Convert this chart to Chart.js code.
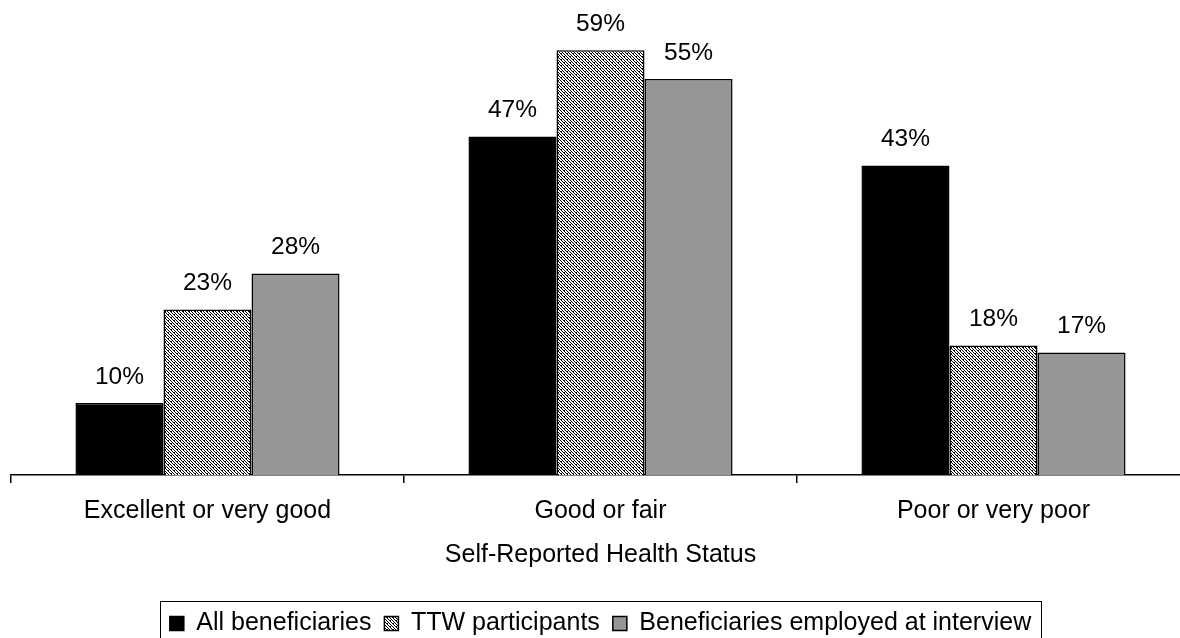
<!DOCTYPE html>
<html><head><meta charset="utf-8">
<script src="https://cdn.jsdelivr.net/npm/chart.js@4.4.1/dist/chart.umd.min.js"></script>
<style>
html,body{margin:0;padding:0;background:#fff;overflow:hidden;width:1180px;height:638px}
#wrap{position:absolute;left:0;top:0;width:1200px;height:660px}
</style></head><body>
<div id="wrap"><canvas id="c" width="1200" height="660"></canvas></div>
<script>
const categories = ['Excellent or very good', 'Good or fair', 'Poor or very poor'];
const seriesNames = ['All beneficiaries', 'TTW participants', 'Beneficiaries employed at interview'];
const allBeneficiaries = [10, 47, 43];
const ttwParticipants = [23, 59, 18];
const employedAtInterview = [28, 55, 17];
const axisTitle = 'Self-Reported Health Status';

const FONT = 'Arial, "Liberation Sans", sans-serif';

function makePattern() {
  const n = 6;
  const t = document.createElement('canvas');
  t.width = n; t.height = n;
  const g = t.getContext('2d');
  g.fillStyle = '#fff'; g.fillRect(0, 0, n, n);
  g.fillStyle = '#000';
  for (let y = 0; y < n; y++) {
    for (let x = 0; x < n; x++) {
      const d = ((x - y) % 3 + 3) % 3;
      if (d === 0 || (d === 1 && (x + y) % 2 === 0 && x % 3 === 0)) g.fillRect(x, y, 1, 1);
    }
  }
  return document.getElementById('c').getContext('2d').createPattern(t, 'repeat');
}
const hatch = makePattern();

const valueLabels = {
  id: 'valueLabels',
  afterDatasetsDraw(chart) {
    const ctx = chart.ctx;
    ctx.save();
    ctx.font = '24.5px ' + FONT;
    ctx.fillStyle = '#000';
    ctx.textAlign = 'center';
    ctx.textBaseline = 'middle';
    chart.data.datasets.forEach((ds, i) => {
      chart.getDatasetMeta(i).data.forEach((bar, j) => {
        ctx.fillText(ds.data[j] + '%', bar.x, bar.y - 26);
      });
    });
    ctx.restore();
  }
};

const legendFrame = {
  id: 'legendFrame',
  afterDraw(chart) {
    const hb = chart.legend.legendHitBoxes;
    if (!hb || !hb.length) return;
    let minX = Infinity, maxX = -Infinity;
    hb.forEach(b => { minX = Math.min(minX, b.left); maxX = Math.max(maxX, b.left + b.width); });
    const cy = hb[0].top + hb[0].height / 2;
    const ctx = chart.ctx;
    ctx.save();
    ctx.strokeStyle = '#000';
    ctx.lineWidth = 1;
    ctx.strokeRect(Math.round(minX - 10) + 0.5, Math.round(cy - 23) + 0.5, Math.round(maxX - minX + 20), 46);
    ctx.restore();
  }
};

new Chart(document.getElementById('c'), {
  type: 'bar',
  data: {
    labels: categories,
    datasets: [
      { label: seriesNames[0], data: allBeneficiaries, backgroundColor: '#000', borderColor: '#000', borderWidth: 1.5 },
      { label: seriesNames[1], data: ttwParticipants, backgroundColor: hatch, borderColor: '#000', borderWidth: 1.5 },
      { label: seriesNames[2], data: employedAtInterview, backgroundColor: '#969696', borderColor: '#000', borderWidth: 1.5 }
    ]
  },
  options: {
    responsive: false,
    animation: false,
    devicePixelRatio: 1,
    layout: { padding: { left: 11, right: 10, top: 7, bottom: 14 } },
    datasets: { bar: { categoryPercentage: 0.672, barPercentage: 1 } },
    scales: {
      x: {
        grid: { display: true, drawOnChartArea: false, drawTicks: true, tickLength: 8, color: '#000', lineWidth: 1.5, offset: true },
        border: { display: true, color: '#000', width: 1.5 },
        ticks: { color: '#000', font: { family: FONT, size: 25, lineHeight: 1.0 }, padding: 16 },
        title: { display: true, text: axisTitle, color: '#000', font: { family: FONT, size: 25 }, padding: { top: 0, bottom: 28 } }
      },
      y: { display: false, min: 0, max: 65 }
    },
    plugins: {
      legend: {
        position: 'bottom',
        labels: { color: '#000', font: { family: FONT, size: 25 }, boxWidth: 14, boxHeight: 14, padding: 13 }
      },
      tooltip: { enabled: false }
    }
  },
  plugins: [valueLabels, legendFrame]
});
</script>
</body></html>
